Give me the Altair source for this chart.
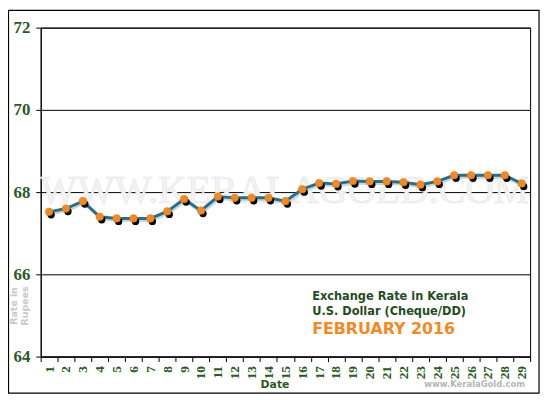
import altair as alt
import pandas as pd

days = list(range(1, 30))
rates = [67.52, 67.60, 67.78, 67.40, 67.36, 67.36, 67.36, 67.53, 67.83, 67.55,
         67.89, 67.86, 67.86, 67.86, 67.78, 68.07, 68.22, 68.20, 68.27, 68.26,
         68.26, 68.24, 68.18, 68.26, 68.41, 68.41, 68.41, 68.41, 68.21]
y_ticks = [64, 66, 68, 70, 72]

df = pd.DataFrame({"Date": [str(d) for d in days], "Rate": rates})
order = [str(d) for d in days]

GREEN = "#2b5a25"
ORANGE = "#f5891f"
LINE = "#22708f"

W, H = 494, 332

xenc = alt.X("Date:O", sort=order,
             scale=alt.Scale(paddingInner=0, paddingOuter=0, align=0.5),
             axis=alt.Axis(title="Date", labelAngle=-90, tickBand="extent",
                           labelFont="Liberation Serif", labelFontWeight="bold",
                           labelFontSize=13.5, labelColor=GREEN, labelPadding=4,
                           tickColor="black", tickSize=5, domainColor="black",
                           titleFont="DejaVu Sans", titleFontWeight="bold",
                           titleFontSize=11, titleColor=GREEN,
                           titleAnchor="middle", titleBaseline="middle",
                           titleX=236, titleY=28, grid=False))
yscale = alt.Scale(domain=[64, 72], nice=False, zero=False)
yenc = alt.Y("Rate:Q", scale=yscale,
             axis=alt.Axis(values=y_ticks, title=None, grid=True,
                           gridColor="black", gridWidth=1, gridOpacity=1,
                           labelFont="Liberation Serif", labelFontWeight="bold",
                           labelFontSize=17, labelColor=GREEN, labelPadding=6,
                           tickColor="black", tickSize=5, domainColor="black"))

base = alt.Chart(df)

watermark = alt.Chart(pd.DataFrame({"t": ["WWW.KERALAGOLD.COM"]})).mark_text(
    font="Liberation Serif", fontSize=40, color="#f3f3f3", align="center",
    baseline="alphabetic", stroke="#e6e6e6", strokeWidth=0.6
).encode(text="t:N", x=alt.value(246), y=alt.value(177))

line_shadow = base.mark_line(color="#c9d6dc", strokeWidth=3, xOffset=1, yOffset=2).encode(
    x=xenc, y=yenc)
line = base.mark_line(color=LINE, strokeWidth=3).encode(x=xenc, y=yenc)
pt_shadow = base.mark_circle(color="black", opacity=1, size=55, xOffset=2, yOffset=3).encode(
    x=xenc, y=yenc)
pts = base.mark_circle(color=ORANGE, opacity=1, size=60, stroke="#e07810",
                       strokeWidth=0.5).encode(x=xenc, y=yenc)

one = pd.DataFrame({"a": [0]})
frame = alt.Chart(one).mark_rect(fill=None, stroke="black", strokeWidth=1.2).encode(
    x=alt.value(-32.5), x2=alt.value(503), y=alt.value(-17.5), y2=alt.value(369))

legend_lines = ["Exchange Rate in Kerala", "U.S. Dollar (Cheque/DD)"]
leg1 = alt.Chart(one).mark_text(font="DejaVu Sans", fontWeight="bold", fontSize=11.5,
                                 color="#244d1e", align="left", baseline="middle").encode(
    text=alt.value(legend_lines[0]), x=alt.value(274), y=alt.value(272))
leg2 = alt.Chart(one).mark_text(font="DejaVu Sans", fontWeight="bold", fontSize=11.5,
                                 color="#244d1e", align="left", baseline="middle").encode(
    text=alt.value(legend_lines[1]), x=alt.value(274), y=alt.value(287))
leg3 = alt.Chart(one).mark_text(font="DejaVu Sans", fontWeight="bold", fontSize=16,
                                 color=ORANGE, align="left", baseline="middle").encode(
    text=alt.value("FEBRUARY 2016"), x=alt.value(274), y=alt.value(304))

ytitle1 = alt.Chart(one).mark_text(font="DejaVu Sans", fontWeight="bold", fontSize=9.5,
                                   color="#c8c8c8", angle=270, align="center",
                                   baseline="middle").encode(
    text=alt.value("Rate in"), x=alt.value(-27), y=alt.value(281))
ytitle2 = alt.Chart(one).mark_text(font="DejaVu Sans", fontWeight="bold", fontSize=9.5,
                                   color="#c8c8c8", angle=270, align="center",
                                   baseline="middle").encode(
    text=alt.value("Rupees"), x=alt.value(-16), y=alt.value(281))

site = alt.Chart(one).mark_text(font="DejaVu Sans", fontWeight="bold", fontSize=8.5,
                                color="#b5b5b5", align="center", baseline="middle").encode(
    text=alt.value("www.KeralaGold.com"), x=alt.value(438), y=alt.value(360))

chart = alt.layer(
    watermark, line_shadow, line, pt_shadow, pts,
    leg1, leg2, leg3, ytitle1, ytitle2, site, frame
).properties(
    width=W, height=H,
    autosize=alt.AutoSizeParams(type="none"),
    padding={"left": 33, "top": 18, "right": 12, "bottom": 40},
    background="white"
).configure_view(stroke="black", strokeWidth=1)

chart.save("out.html", embed_options={"renderer": "svg", "actions": False})
